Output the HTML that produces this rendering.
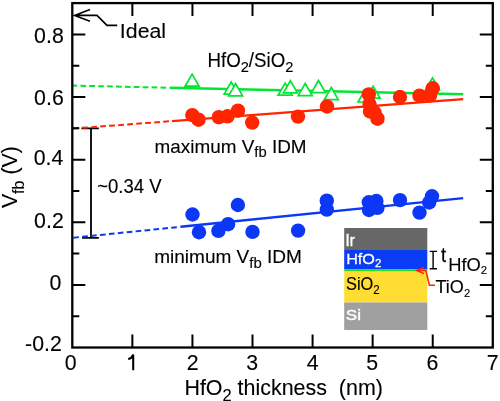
<!DOCTYPE html>
<html><head><meta charset="utf-8"><style>
html,body{margin:0;padding:0;background:#fff;}
svg{display:block;will-change:transform;filter:blur(0.25px);}
text{font-family:"Liberation Sans", sans-serif;}
</style></head><body>
<svg width="500" height="401" viewBox="0 0 500 401">
<path d="M81.4,128.4H98.8M91,128.4V237.8M82,237.8H98.8" stroke="#000" stroke-width="1.8" fill="none"/>
<line x1="72.3" y1="85.60" x2="170.20" y2="87.75" stroke="#00e632" stroke-width="2.0" stroke-dasharray="5.70 3.20" stroke-dashoffset="0.80"/>
<line x1="170.20" y1="87.75" x2="463.20" y2="94.20" stroke="#00e632" stroke-width="2.4"/>
<line x1="72.3" y1="128.60" x2="172.00" y2="121.09" stroke="#ff2500" stroke-width="2.0" stroke-dasharray="5.72 3.31" stroke-dashoffset="-0.90"/>
<line x1="172.00" y1="121.09" x2="463.20" y2="99.17" stroke="#ff2500" stroke-width="2.4"/>
<line x1="72.3" y1="237.80" x2="180.60" y2="226.81" stroke="#0c38f5" stroke-width="2.0" stroke-dasharray="5.63 3.32" stroke-dashoffset="-1.01"/>
<line x1="180.60" y1="226.81" x2="463.20" y2="198.12" stroke="#0c38f5" stroke-width="2.4"/>
<polygon points="192.10,74.10 185.10,86.22 199.10,86.22" fill="#fff" stroke="#00e632" stroke-width="1.7"/>
<polygon points="231.20,82.00 224.20,94.12 238.20,94.12" fill="#fff" stroke="#00e632" stroke-width="1.7"/>
<polygon points="235.60,83.70 228.60,95.82 242.60,95.82" fill="#fff" stroke="#00e632" stroke-width="1.7"/>
<polygon points="285.10,83.10 278.10,95.22 292.10,95.22" fill="#fff" stroke="#00e632" stroke-width="1.7"/>
<polygon points="290.40,80.80 283.40,92.92 297.40,92.92" fill="#fff" stroke="#00e632" stroke-width="1.7"/>
<polygon points="305.20,83.50 298.20,95.62 312.20,95.62" fill="#fff" stroke="#00e632" stroke-width="1.7"/>
<polygon points="318.50,80.50 311.50,92.62 325.50,92.62" fill="#fff" stroke="#00e632" stroke-width="1.7"/>
<polygon points="331.30,87.50 324.30,99.62 338.30,99.62" fill="#fff" stroke="#00e632" stroke-width="1.7"/>
<polygon points="365.00,89.90 358.00,102.02 372.00,102.02" fill="#fff" stroke="#00e632" stroke-width="1.7"/>
<polygon points="373.10,86.10 366.10,98.22 380.10,98.22" fill="#fff" stroke="#00e632" stroke-width="1.7"/>
<polygon points="432.50,77.90 425.50,90.02 439.50,90.02" fill="#fff" stroke="#00e632" stroke-width="1.7"/>
<circle cx="192.3" cy="115.1" r="7.2" fill="#ff2500"/>
<circle cx="198.5" cy="119.7" r="7.2" fill="#ff2500"/>
<circle cx="218.8" cy="117.2" r="7.2" fill="#ff2500"/>
<circle cx="227.5" cy="116.3" r="7.2" fill="#ff2500"/>
<circle cx="238" cy="110.7" r="7.2" fill="#ff2500"/>
<circle cx="252.2" cy="122.6" r="7.2" fill="#ff2500"/>
<circle cx="298" cy="116.6" r="7.2" fill="#ff2500"/>
<circle cx="327" cy="106.5" r="7.2" fill="#ff2500"/>
<circle cx="368.8" cy="94.4" r="7.2" fill="#ff2500"/>
<circle cx="369.5" cy="104" r="7.2" fill="#ff2500"/>
<circle cx="370" cy="111.5" r="7.2" fill="#ff2500"/>
<circle cx="374.5" cy="112.5" r="7.2" fill="#ff2500"/>
<circle cx="377.5" cy="118.7" r="7.2" fill="#ff2500"/>
<circle cx="400" cy="97" r="7.2" fill="#ff2500"/>
<circle cx="419.5" cy="95.7" r="7.2" fill="#ff2500"/>
<circle cx="430" cy="95.5" r="7.2" fill="#ff2500"/>
<circle cx="432.7" cy="88.3" r="7.2" fill="#ff2500"/>
<circle cx="192.5" cy="214.5" r="7.2" fill="#0c38f5"/>
<circle cx="199" cy="232.2" r="7.2" fill="#0c38f5"/>
<circle cx="218.4" cy="230.8" r="7.2" fill="#0c38f5"/>
<circle cx="228.1" cy="224.2" r="7.2" fill="#0c38f5"/>
<circle cx="237.9" cy="205" r="7.2" fill="#0c38f5"/>
<circle cx="252.5" cy="231.9" r="7.2" fill="#0c38f5"/>
<circle cx="298.1" cy="230.6" r="7.2" fill="#0c38f5"/>
<circle cx="326.8" cy="200.7" r="7.2" fill="#0c38f5"/>
<circle cx="326.8" cy="209.6" r="7.2" fill="#0c38f5"/>
<circle cx="368.8" cy="202.3" r="7.2" fill="#0c38f5"/>
<circle cx="376.4" cy="201" r="7.2" fill="#0c38f5"/>
<circle cx="369" cy="210" r="7.2" fill="#0c38f5"/>
<circle cx="377.4" cy="207.8" r="7.2" fill="#0c38f5"/>
<circle cx="400" cy="200.1" r="7.2" fill="#0c38f5"/>
<circle cx="419.5" cy="212.6" r="7.2" fill="#0c38f5"/>
<circle cx="429.2" cy="202.5" r="7.2" fill="#0c38f5"/>
<circle cx="432" cy="196.3" r="7.2" fill="#0c38f5"/>
<rect x="344.2" y="228" width="83.10" height="22" fill="#676767"/>
<rect x="344.2" y="250" width="83.10" height="19.5" fill="#0a3cf5"/>
<rect x="344.2" y="269.5" width="83.10" height="2" fill="#22dd22"/>
<rect x="344.2" y="271.5" width="83.10" height="31" fill="#ffdd33"/>
<rect x="344.2" y="302.5" width="83.10" height="27.5" fill="#a0a0a0"/>
<text transform="translate(345.62,245.58) scale(0.8800,0.9214)" font-size="17" fill="#fff" stroke="#fff" stroke-width="0.45">Ir</text>
<text transform="translate(346.15,263.75) scale(0.9528,0.8500)" font-size="17" fill="#fff" stroke="#fff" stroke-width="0.3">HfO<tspan font-size="12" dy="4">2</tspan></text>
<text transform="translate(346.00,289.88) scale(0.9629,1.0312)" font-size="17" fill="#000" stroke="#000" stroke-width="0.12">SiO<tspan font-size="12" dy="4">2</tspan></text>
<text transform="translate(345.80,320.45) scale(1.0000,0.8500)" font-size="17" fill="#fff" stroke="#fff" stroke-width="0.45">Si</text>
<path d="M429.7,251.4H437M433.1,251.4V268.8M429.7,268.8H437" stroke="#000" stroke-width="1.4" fill="none"/>
<text transform="translate(441.10,261.91) scale(0.8667,0.9867)" font-size="21" fill="#000" stroke="#000" stroke-width="0.3">t</text>
<text transform="translate(448.21,270.53) scale(0.9921,1.0176)" font-size="18.5" fill="#000" stroke="#000" stroke-width="0.12">HfO<tspan font-size="11.5" dy="3.5">2</tspan></text>
<text transform="translate(435.50,293.20) scale(0.9750,1.0000)" font-size="18.5" fill="#000" stroke="#000" stroke-width="0.12">TiO<tspan font-size="11.5" dy="3.5">2</tspan></text>
<path d="M435,285.2H429.4L425.8,270.4H416.6M424.2,267.4L416.6,270.4L424.2,273.6" stroke="#ff2500" stroke-width="1.5" fill="none"/>
<path d="M132.37,347.51v-13M132.37,3.10v13M192.44,347.51v-13M192.44,3.10v13M252.51,347.51v-13M252.51,3.10v13M312.58,347.51v-13M312.58,3.10v13M372.65,347.51v-13M372.65,3.10v13M432.72,347.51v-13M432.72,3.10v13M72.30,316.20h7M492.79,316.20h-7M72.30,284.89h13M492.79,284.89h-13M72.30,253.58h7M492.79,253.58h-7M72.30,222.27h13M492.79,222.27h-13M72.30,190.96h7M492.79,190.96h-7M72.30,159.65h13M492.79,159.65h-13M72.30,128.34h7M492.79,128.34h-7M72.30,97.03h13M492.79,97.03h-13M72.30,65.72h7M492.79,65.72h-7M72.30,34.41h13M492.79,34.41h-13" stroke="#000" stroke-width="2" fill="none"/>
<rect x="72.30" y="3.10" width="420.49" height="344.41" fill="none" stroke="#000" stroke-width="2.3"/>
<path d="M74.6,15.4H97L107,25.4H117.2M90,9.4L74.6,15.4L90,21.2" stroke="#000" stroke-width="1.6" fill="none"/>
<text transform="translate(34.10,43.19) scale(0.9700,1.0250)" font-size="22" fill="#000" stroke="#000" stroke-width="0.12">0.8</text>
<text transform="translate(34.10,104.84) scale(0.9700,1.0250)" font-size="22" fill="#000" stroke="#000" stroke-width="0.12">0.6</text>
<text transform="translate(33.70,164.84) scale(0.9700,1.0250)" font-size="22" fill="#000" stroke="#000" stroke-width="0.12">0.4</text>
<text transform="translate(34.10,227.84) scale(0.9700,1.0250)" font-size="22" fill="#000" stroke="#000" stroke-width="0.12">0.2</text>
<text transform="translate(49.56,290.19) scale(0.9700,1.0250)" font-size="22" fill="#000" stroke="#000" stroke-width="0.12">0</text>
<text transform="translate(25.11,350.94) scale(0.9700,1.0250)" font-size="22" fill="#000" stroke="#000" stroke-width="0.12">-0.2</text>
<path d="M128.2,359C130.6,358.6 132.4,357.2 133.2,354.6V370.3" stroke="#000" stroke-width="2.05" fill="none"/>
<text transform="translate(64.63,370.04) scale(0.9700,1.0250)" font-size="22" fill="#000" stroke="#000" stroke-width="0.12">0</text>
<text transform="translate(186.69,370.04) scale(0.9700,1.0250)" font-size="22" fill="#000" stroke="#000" stroke-width="0.12">2</text>
<text transform="translate(246.20,370.04) scale(0.9700,1.0250)" font-size="22" fill="#000" stroke="#000" stroke-width="0.12">3</text>
<text transform="translate(306.76,370.04) scale(0.9700,1.0250)" font-size="22" fill="#000" stroke="#000" stroke-width="0.12">4</text>
<text transform="translate(366.35,370.04) scale(0.9700,1.0250)" font-size="22" fill="#000" stroke="#000" stroke-width="0.12">5</text>
<text transform="translate(426.42,370.04) scale(0.9700,1.0250)" font-size="22" fill="#000" stroke="#000" stroke-width="0.12">6</text>
<text transform="translate(486.69,370.04) scale(0.9700,1.0250)" font-size="22" fill="#000" stroke="#000" stroke-width="0.12">7</text>
<text transform="translate(119.86,37.60) scale(0.9689,0.9438)" font-size="22" fill="#000" stroke="#000" stroke-width="0.12">Ideal</text>
<text transform="translate(184.40,395.25) scale(0.9975,0.9909)" font-size="21.5" fill="#000" stroke="#000" stroke-width="0.12">HfO<tspan font-size="16.5" dy="6.2">2</tspan><tspan dy="-6.2"> thickness&#160; (nm)</tspan></text>
<text transform="translate(207.49,66.58) scale(1.0107,1.0444)" font-size="18.5" fill="#000" stroke="#000" stroke-width="0.12">HfO<tspan font-size="14.5" dy="4.8">2</tspan><tspan dy="-4.8">/SiO</tspan><tspan font-size="14.5" dy="4.8">2</tspan></text>
<text transform="translate(154.58,152.78) scale(1.0218,0.9833)" font-size="18.5" fill="#000" stroke="#000" stroke-width="0.12">maximum V<tspan font-size="14.5" dy="4.6">fb</tspan><tspan dy="-4.6"> IDM</tspan></text>
<text transform="translate(154.17,263.14) scale(1.0289,1.0111)" font-size="18.5" fill="#000" stroke="#000" stroke-width="0.12">minimum V<tspan font-size="14.5" dy="4.6">fb</tspan><tspan dy="-4.6"> IDM</tspan></text>
<text transform="translate(97.20,192.70) scale(0.9773,1.0385)" font-size="19" fill="#000" stroke="#000" stroke-width="0.12">~0.34 V</text>
<text transform="matrix(0,-0.9839,0.9913,0,17.06,208.00)" font-size="21.5" stroke="#000" stroke-width="0.12">V<tspan font-size="16.5" dy="7.2">fb</tspan><tspan dy="-7.2"> (V)</tspan></text>
</svg>
</body></html>
